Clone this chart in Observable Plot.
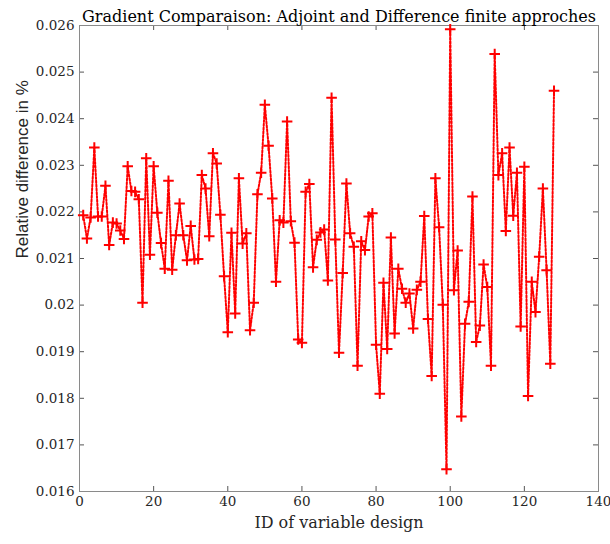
<!DOCTYPE html>
<html><head><meta charset="utf-8">
<script src="https://cdn.jsdelivr.net/npm/d3@7"></script>
<script src="https://cdn.jsdelivr.net/npm/@observablehq/plot@0.6"></script>
<style>body{margin:0;background:#fff}</style>
</head><body><div id="chart"></div>
<script>
const title = "Gradient Comparaison: Adjoint and Difference finite approches";
const xLabel = "ID of variable design";
const yLabel = "Relative difference in %";
const xTicks = [0, 20, 40, 60, 80, 100, 120, 140];
const yTicks = [0.016, 0.017, 0.018, 0.019, 0.020, 0.021, 0.022, 0.023, 0.024, 0.025, 0.026];
const relDiff = [
  0.02193, 0.02143, 0.02188, 0.02338, 0.02190, 0.02190, 0.02256, 0.02129, 0.02177, 0.02175,
  0.02160, 0.02142, 0.02298, 0.02245, 0.02243, 0.02227, 0.02005, 0.02315, 0.02108, 0.02298,
  0.02198, 0.02133, 0.02078, 0.02267, 0.02076, 0.02150, 0.02218, 0.02150, 0.02096, 0.02170,
  0.02098, 0.02099, 0.02279, 0.02250, 0.02148, 0.02326, 0.02304, 0.02194, 0.02062, 0.01942,
  0.02155, 0.01982, 0.02272, 0.02132, 0.02154, 0.01946, 0.02005, 0.02238, 0.02284, 0.02430,
  0.02342, 0.02229, 0.02050, 0.02182, 0.02177, 0.02394, 0.02180, 0.02134, 0.01926, 0.01919,
  0.02243, 0.02260, 0.02081, 0.02140, 0.02156, 0.02162, 0.02053, 0.02445, 0.02141, 0.01898,
  0.02069, 0.02261, 0.02154, 0.02125, 0.01870, 0.02137, 0.02118, 0.02190, 0.02197, 0.01915,
  0.01810, 0.02048, 0.01906, 0.02145, 0.01939, 0.02078, 0.02035, 0.02005, 0.02025, 0.01950,
  0.02033, 0.02050, 0.02191, 0.01970, 0.01848, 0.02272, 0.02167, 0.02001, 0.01648, 0.02592,
  0.02032, 0.02117, 0.01761, 0.01960, 0.02007, 0.02233, 0.01921, 0.01956, 0.02087, 0.02039,
  0.01870, 0.02539, 0.02279, 0.02326, 0.02159, 0.02338, 0.02192, 0.02284, 0.01954, 0.02297,
  0.01805, 0.02050, 0.01985, 0.02104, 0.02250, 0.02075, 0.01874, 0.02460
];
const ids = relDiff.map((_, i) => i + 1);
const data = ids.map((id, i) => ({id, value: relDiff[i]}));

const W = 610, H = 544, mL = 79, mR = 12, mT = 25, mB = 53;
const innerH = H - mT - mB;
const innerW = W - mL - mR;
const serif = "'DejaVu Serif', 'Liberation Serif', serif";
const sans = "'Liberation Sans', Arial, sans-serif";
const fmtY = d => String(+d.toFixed(3));

const chart = Plot.plot({
  width: W, height: H,
  marginLeft: mL, marginRight: mR, marginTop: mT, marginBottom: mB,
  style: {fontFamily: serif, fontSize: "13.5px", color: "#262626", background: "white"},
  x: {domain: [0, 140], axis: null},
  y: {domain: [0.016, 0.026], axis: null},
  marks: [
    Plot.tickX(xTicks, {x: d => d, insetTop: innerH - 5, stroke: "#555"}),
    Plot.tickX(xTicks, {x: d => d, insetBottom: innerH - 5, stroke: "#555"}),
    Plot.tickY(yTicks, {y: d => d, insetRight: innerW - 5, stroke: "#555"}),
    Plot.tickY(yTicks, {y: d => d, insetLeft: innerW - 5, stroke: "#555"}),
    Plot.text(xTicks, {x: d => d, text: d => String(d), frameAnchor: "bottom", dy: 14,
      fontFamily: serif, fontSize: 13.5, fill: "#262626"}),
    Plot.text(yTicks, {y: d => d, text: fmtY, frameAnchor: "left", dx: -5, textAnchor: "end",
      fontFamily: serif, fontSize: 13.5, fill: "#262626"}),
    Plot.frame({stroke: "#8a8a8a"}),
    Plot.line(data, {x: "id", y: "value", stroke: "red", strokeWidth: 2, strokeDasharray: "2,1.8"}),
    Plot.dot(data, {x: "id", y: "value", symbol: "plus", r: 3.5, stroke: "red", strokeWidth: 2}),
    Plot.text([title], {frameAnchor: "top", dy: -15, fontSize: 16, fontFamily: serif, fill: "black"}),
    Plot.text([xLabel], {frameAnchor: "bottom", dy: 36, fontSize: 16, fontFamily: serif, fill: "#262626"}),
    Plot.text([yLabel], {frameAnchor: "left", dx: -57, rotate: -90, fontSize: 17, fontFamily: sans, fill: "#262626"})
  ]
});
document.getElementById("chart").appendChild(chart);
</script>
</body></html>
